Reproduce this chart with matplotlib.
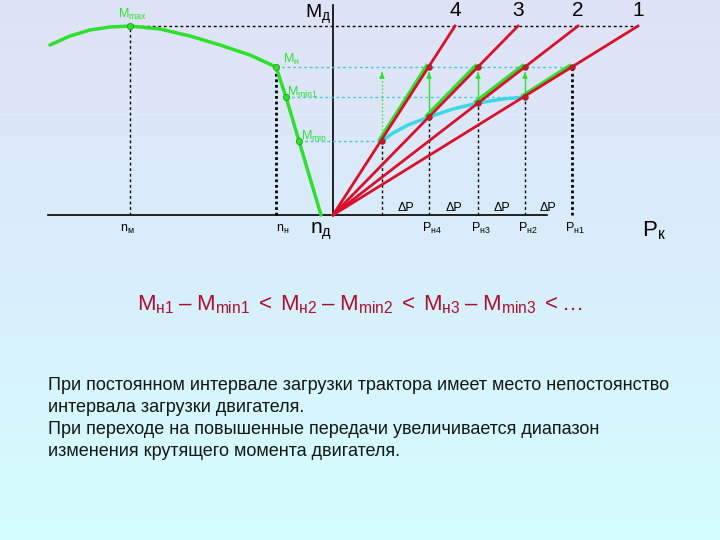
import numpy as np
import matplotlib
matplotlib.use("Agg")
import matplotlib.pyplot as plt
from matplotlib.colors import LinearSegmentedColormap

plt.rcParams['font.family'] = ['Liberation Sans', 'DejaVu Sans']
plt.rcParams['mathtext.fontset'] = 'custom'
plt.rcParams['mathtext.rm'] = 'Liberation Sans'
plt.rcParams['mathtext.it'] = 'Liberation Sans'

# engine torque curve M(n), drawn to the left of the M axis (schematic units)
n_curve = [-283, -263, -243, -223, -203, -173, -143, -113, -83, -57, -47, -34, -12]
M_curve = [170, 179, 185, 188, 189, 186, 179, 170, 160, 148, 118, 74, 0]
n_marks = [-203, -57, -47, -34]
M_marks = [189, 148, 118, 74]

M_max = 189
M_nom = 148
# tractive force of each gear at M_max (gears 1..4)
P_top = [305, 245, 185, 122]
gear_labels = ['1', '2', '3', '4']
# rated and minimum-load points per gear
P_nom = [239, 192, 145, 96]
P_min = [192, 145, 96, 49]
M_min = [118, 112, 98, 74]
# line of the M_min points
P_cyan = [49, 60, 75, 96, 120, 145, 170, 192]
M_cyan = [74, 82, 90, 98, 106, 112, 116, 118]

red = '#d8102c'
green = '#2ee02e'
cyan = '#3cd8e4'
dcyan = '#48c8dc'

fig = plt.figure(figsize=(7.2, 5.4), dpi=100)
ax = fig.add_axes([0, 0, 1, 1])
ax.set_xlim(-333, 387)
ax.set_ylim(-325, 215)
ax.set_axis_off()

# background gradient
cmap = LinearSegmentedColormap.from_list('bg', ['#dfe2f5', '#d8eefa', '#d4feff'])
grad = np.linspace(0, 1, 256).reshape(-1, 1)
ax.imshow(grad, extent=[-333, 387, -325, 215], cmap=cmap, aspect='auto', zorder=0,
          origin='upper')

# axes lines
ax.plot([-285, 214], [0, 0], color='black', lw=1.2, zorder=2)
ax.plot([0, 0], [0, 210], color='black', lw=1.2, zorder=2)

# horizontal guides
ax.plot([n_marks[0], P_top[0]], [M_max, M_max], color='black', lw=1, ls=(0, (2, 2)), zorder=2)
ax.plot([n_marks[1], P_nom[0]], [M_nom, M_nom], color=dcyan, lw=1, ls=(0, (2, 2)), zorder=2)
ax.plot([n_marks[2], P_min[0]], [M_min[0], M_min[0]], color=dcyan, lw=1, ls=(0, (2, 2)), zorder=2)
ax.plot([n_marks[3], P_min[3]], [M_min[3], M_min[3]], color=dcyan, lw=1, ls=(0, (2, 2)), zorder=2)

# vertical guides
ax.plot([n_marks[0]] * 2, [0, M_max], color='black', lw=1, ls=(0, (2, 2)), zorder=2)
ax.plot([n_marks[1]] * 2, [0, M_nom], color='black', lw=2, ls=(0, (1, 1)), zorder=2)
ax.plot([P_nom[0]] * 2, [0, M_nom], color='black', lw=2, ls=(0, (1, 1)), zorder=2)
for p, m in zip(P_min, M_min):
    ax.plot([p, p], [0, m], color='black', lw=1, ls=(0, (2, 2)), zorder=2)

# green arrows from M_min up to M_nom
for i, (p, m) in enumerate(zip(P_min, M_min)):
    top = M_nom - 3
    ls = ':' if i == 3 else '-'
    ax.plot([p, p], [m, top - 4], color=green, lw=1, ls=ls, zorder=3)
    ax.annotate('', xy=(p, top), xytext=(p, top - 6),
                arrowprops=dict(arrowstyle='-|>', color=green, lw=1, mutation_scale=7),
                zorder=3)

# engine curve
ax.plot(n_curve, M_curve, color=green, lw=2.5, zorder=4, solid_capstyle='round')
ax.plot(n_marks, M_marks, 'o', color=green, ms=4.5, mec='#20a020', mew=0.6, zorder=5)

# cyan curve
ax.plot(P_cyan, M_cyan, color=cyan, lw=2.5, zorder=4)

# gear rays
for pt, pn, pm, mm in zip(P_top, P_nom, P_min, M_min):
    ax.plot([pm - 2.5, pn - 2.5], [mm + 1.5, M_nom + 1.5], color=green, lw=2.2, zorder=4)
    ax.plot([0, pt], [0, M_max], color=red, lw=2, zorder=5)
    ax.plot([pn, pm], [M_nom, mm], 'o', color=red, ms=4, mec='#803030', mew=0.6, zorder=6)

# text labels (pixel positions converted to figure fractions)
def put(x, y, s, size, color='black', **kw):
    fig.text(x / 720, 1 - y / 540, s, fontsize=size, color=color, va='center', **kw)

put(118, 14, r'$\mathregular{M_{max}}$', 9, green)
put(305, 14, r'$\mathregular{M_{д}}$', 14)
put(283, 59, r'$\mathregular{M_{н}}$', 9, green)
put(287, 92, r'$\mathregular{M_{min1}}$', 9, green)
put(301, 136, r'$\mathregular{M_{min}}$', 9, green)

for lbl, pt in zip(gear_labels, P_top):
    put(pt + 333, 11, lbl, 15, ha='center')

put(120, 229, r'$\mathregular{n_{м}}$', 9)
put(276, 229, r'$\mathregular{n_{н}}$', 9)
put(310, 231, r'$\mathregular{n_{д}}$', 15)

for i in range(4):
    put((P_min[i] + P_nom[i]) / 2 + 333, 208, 'ΔP', 9, ha='center')
    put(P_nom[i] + 333 - 7, 228, r'$\mathregular{P_{н%d}}$' % (i + 1), 9)
put(642, 231, r'$\mathregular{P_{к}}$', 16)

put(137, 305, r'$\mathregular{M_{н1}\;–\;M_{min1}\;<\;M_{н2}\;–\;M_{min2}\;<\;'
    r'M_{н3}\;–\;M_{min3}\;<…}$', 16, '#a81030')

para = ('При постоянном интервале загрузки трактора имеет место непостоянство\n'
        'интервала загрузки двигателя.\n'
        'При переходе на повышенные передачи увеличивается диапазон\n'
        'изменения крутящего момента двигателя.')
fig.text(48 / 720, 1 - 377 / 540, para, fontsize=13, color='#101810', va='top',
         linespacing=1.38)

fig.savefig('out.png', dpi=100)
